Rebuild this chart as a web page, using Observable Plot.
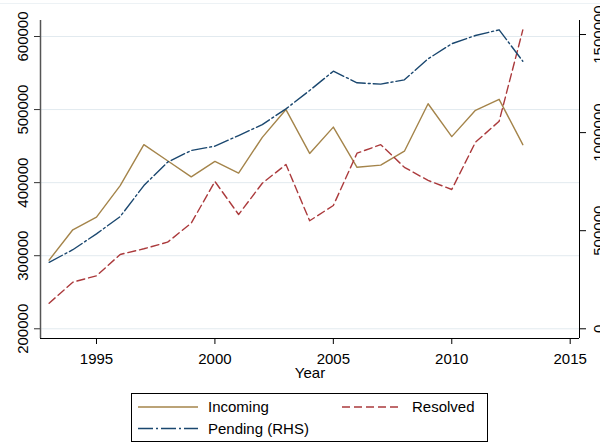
<!DOCTYPE html>
<html>
<head>
<meta charset="utf-8">
<script src="https://cdn.jsdelivr.net/npm/d3@7"></script>
<script src="https://cdn.jsdelivr.net/npm/@observablehq/plot@0.6"></script>
<style>
  body { margin: 0; background: #fff; }
  #chart { position: relative; width: 600px; height: 443px; overflow: hidden;
           font-family: "Liberation Sans", Arial, Helvetica, sans-serif; }
  #chart .topline { position: absolute; left: 0; top: 3px; width: 600px; height: 1px; background: #edf2f5; }
  #chart svg.plot { position: absolute; left: 0; top: 0; }
  #legend { position: absolute; left: 131px; top: 393px; }
</style>
</head>
<body>
<div id="chart"><div class="topline"></div></div>
<script>
// Annual case counts
const years    = [1993, 1994, 1995, 1996, 1997, 1998, 1999, 2000, 2001, 2002, 2003,
                  2004, 2005, 2006, 2007, 2008, 2009, 2010, 2011, 2012, 2013];
const incoming = [294000, 335500, 352700, 396000, 452000, 430000, 408000, 429000, 413000, 462000, 500000,
                  440000, 476000, 421000, 424000, 443000, 508000, 463000, 499000, 514000, 452000];
const resolved = [235000, 263800, 272500, 301700, 309500, 318500, 344500, 401600, 356400, 399200, 424800,
                  347800, 368700, 440300, 452000, 421000, 403000, 390600, 455300, 484000, 609000];
const pending  = [339000, 403000, 484000, 572000, 730000, 849000, 909000, 931000, 985000, 1041000, 1121000,
                  1215000, 1313000, 1254000, 1247000, 1269000, 1376000, 1453000, 1495000, 1524000, 1364000];

const xTicks     = [1995, 2000, 2005, 2010, 2015];
const leftTicks  = [200000, 300000, 400000, 500000, 600000];
const rightTicks = [0, 500000, 1000000, 1500000];

const seriesNames  = ["Incoming", "Resolved", "Pending (RHS)"];
const seriesColors = ["#a4844a", "#ab3a3c", "#1a476f"];
const seriesDash   = [null, "8,4", "15,3,2,3"];

// The right-hand axis (pending) is drawn on the left scale through a linear map
const rhsBase = 200000, rhsRatio = 0.26847;
const toLeft = v => rhsBase + v * rhsRatio;
const fromLeft = v => Math.round((v - rhsBase) / rhsRatio / 1000) * 1000;

const rows = (vals, name) => years.map((y, i) => ({year: y, value: vals[i], name}));
const incomingRows = rows(incoming, seriesNames[0]);
const resolvedRows = rows(resolved, seriesNames[1]);
const pendingRows  = rows(pending.map(toLeft), seriesNames[2]);

const xDomain = [1992.636, 2015.393];
const yDomain = [186700, 621900];
const font = "\"Liberation Sans\", Arial, Helvetica, sans-serif";

const plot = Plot.plot({
  width: 600,
  height: 388,
  marginLeft: 40,
  marginRight: 21,
  marginTop: 20,
  marginBottom: 50,
  style: {fontFamily: font, fontSize: "15px", color: "#000", background: "transparent", overflow: "visible"},
  x: {domain: xDomain},
  y: {domain: yDomain},
  marks: [
    Plot.gridY(leftTicks, {stroke: "#e2eaef", strokeOpacity: 1, strokeWidth: 1}),
    Plot.axisY(leftTicks, {anchor: "left", tickSize: 6, tickPadding: 7, tickRotate: -90,
                           label: null, tickFormat: d => String(d), stroke: "#333"}),
    Plot.axisY(rightTicks.map(toLeft), {anchor: "right", tickSize: 6, tickPadding: 8, tickRotate: -90,
                           lineAnchor: "top", label: null, tickFormat: d => String(fromLeft(d))}),
    Plot.axisX(xTicks, {anchor: "bottom", tickSize: 6, tickPadding: 9, label: null,
                        tickFormat: d => String(d)}),
    Plot.text(["Year"], {frameAnchor: "bottom", dy: 39, fontSize: 15}),
    Plot.ruleX([xDomain[0]], {stroke: "#555", strokeWidth: 1.5}),
    Plot.ruleX([xDomain[1]], {stroke: "#000", strokeWidth: 1}),
    Plot.ruleY([yDomain[0]], {stroke: "#000", strokeWidth: 1}),
    Plot.line(incomingRows, {x: "year", y: "value", stroke: seriesColors[0], strokeWidth: 1.4}),
    Plot.line(resolvedRows, {x: "year", y: "value", stroke: seriesColors[1], strokeWidth: 1.4,
                             strokeDasharray: seriesDash[1]}),
    Plot.line(pendingRows, {x: "year", y: "value", stroke: seriesColors[2], strokeWidth: 1.4,
                            strokeDasharray: seriesDash[2]})
  ]
});
plot.classList.add("plot");
document.getElementById("chart").appendChild(plot);

// Legend box below the plot
const lw = 357, lh = 49;
const legend = d3.create("svg").attr("id", "legend").attr("width", lw).attr("height", lh)
  .style("font-family", font).style("font-size", "15px");
legend.append("rect").attr("x", 0.5).attr("y", 0.5).attr("width", lw - 1).attr("height", lh - 1)
  .attr("fill", "#fff").attr("stroke", "#000").attr("stroke-width", 1);
const slots = [{x: 7, y: 14}, {x: 211, y: 14}, {x: 7, y: 35.5}];
seriesNames.forEach((name, i) => {
  const s = slots[i];
  legend.append("line").attr("x1", s.x).attr("x2", s.x + 60).attr("y1", s.y).attr("y2", s.y)
    .attr("stroke", seriesColors[i]).attr("stroke-width", 1.4)
    .attr("stroke-dasharray", seriesDash[i]);
  legend.append("text").attr("x", s.x + 70).attr("y", s.y).attr("dy", "0.35em")
    .attr("fill", "#000").text(name);
});
document.getElementById("chart").appendChild(legend.node());
</script>
</body>
</html>
